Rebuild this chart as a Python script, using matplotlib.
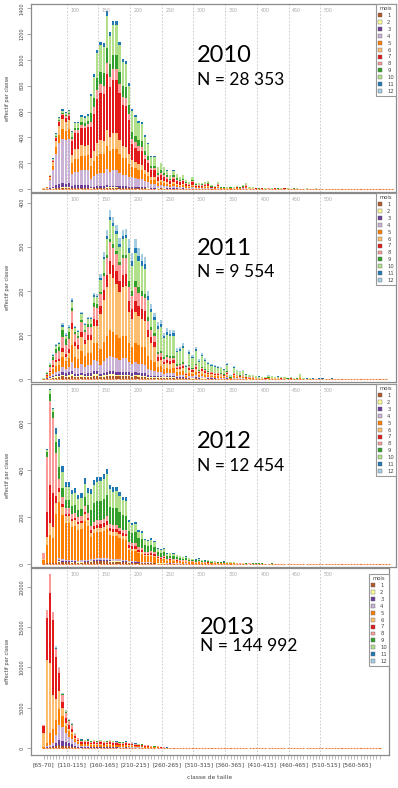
import numpy as np
import matplotlib
matplotlib.use("Agg")
import matplotlib.pyplot as plt
from matplotlib.patches import Patch

W, H = 398, 788

months = [str(m) for m in range(1, 13)]
month_colors = ["#B15928", "#FFFF99", "#6A3D9A", "#CAB2D6", "#FF7F00", "#FDBF6F",
                "#E31A1C", "#FB9A99", "#33A02C", "#B2DF8A", "#1F78B4", "#A6CEE3"]

first_size = 65
class_step = 5
shown_labels = ["[65-70]", "[110-115]", "[160-165]", "[210-215]", "[260-265]", "[310-315]",
                "[360-365]", "[410-415]", "[460-465]", "[510-515]", "[560-565]"]
guide_sizes = [100, 150, 200, 250, 300, 350, 400, 450, 500]

# ---- 2010 ----
totals_2010 = [5, 18, 108, 238, 431, 560, 620, 600, 615,
               449, 521, 521, 573, 565, 578,
               736, 891, 1077, 1141, 1128, 1375, 1219, 1304, 1304, 1141, 1005, 993, 819,
               620, 573, 530, 521, 418, 360, 256, 256,
               172, 204, 172, 147, 108, 147, 116, 95, 108, 70, 57, 95, 49, 44, 49, 57, 65,
               31, 23, 57, 18, 18, 13, 18, 13, 23, 18, 31, 44, 13, 13,
               8, 6, 10, 5, 7, 5, 8, 6, 4, 9, 5, 3, 6, 4, 3, 2, 4, 2, 3, 5, 2, 3, 2, 2,
               3, 1, 2, 1, 2, 1, 1, 2, 1, 1, 1, 0, 1, 0, 1, 0, 0, 1]
bands_2010 = [0, 9, 15, 28, 36]
shares_2010 = [[1, 1, 5, 56, 12, 12, 5, 2, 1.5, 2.5, 2, 0],
               [1, 0.5, 4.5, 20, 19, 14, 24, 4, 3.5, 7, 2.5, 0],
               [0.5, 0.5, 1, 9, 13, 9, 32, 6, 8.5, 18, 2.5, 0],
               [1, 0.5, 1.5, 12, 13, 8, 20, 7, 8, 26, 3, 0],
               [2, 0.5, 1.5, 10, 14, 8, 18, 8, 10, 25, 3, 0]]

# ---- 2011 ----
totals_2011 = [2, 17, 36, 57, 80, 85, 127, 104, 123,
               183, 121, 112, 153, 127, 142, 142, 195, 193,
               238, 289, 338, 383, 368, 349, 319, 338, 340, 317, 285, 317, 297, 284, 277,
               200, 170, 150, 130, 134, 105, 115, 111, 112, 70, 74, 81, 32,
               66, 55, 74, 45, 59, 48, 40, 35, 32, 30, 28, 24, 37, 9, 30, 21, 18, 21, 12, 10, 10,
               8, 7, 6, 5, 9, 8, 6, 7, 5, 6, 4, 5, 3, 4, 13, 3,
               2, 3, 2, 1, 2, 2, 1, 1, 2, 1, 1, 0, 1, 1, 0, 1]
bands_2011 = [0, 9, 18, 27, 36]
shares_2011 = [[5, 3, 5, 9, 17, 9, 7, 20, 12, 7, 3, 3],
               [4, 2, 4, 12, 20, 20, 8, 14, 4, 8, 2, 2],
               [2, 1, 2, 9, 15, 33, 8, 11, 2, 11, 2, 4],
               [2, 1, 2, 7, 14, 22, 8, 10, 4, 20, 4, 6],
               [3, 1, 2, 6, 10, 10, 6, 6, 4, 40, 5, 7]]

# ---- 2012 ----
totals_2012 = [45, 489, 745, 664, 579, 532, 418, 351, 351, 316, 322, 294, 301,
               365, 322, 318, 358, 370, 373, 384, 404, 337, 327, 330, 308, 287, 285,
               188, 176, 180, 145, 139, 105, 102, 109, 98, 67, 62, 67, 45, 48, 45, 38,
               35, 30, 33, 25, 22, 20, 24, 18, 15, 16, 12, 14, 10, 9, 11, 8, 7, 8, 6, 5,
               6, 4, 5, 4, 3, 4, 3, 2, 2, 3, 2, 1, 2, 1, 1, 2, 1, 0, 1, 1]
bands_2012 = [0, 1, 4, 5, 15, 27]
shares_2012 = [[0, 0, 0, 0, 40, 10, 0, 50, 0, 0, 0, 0],
               [0.5, 0, 0, 0, 16, 7, 22, 48, 4, 2, 0.5, 0],
               [1, 0, 0, 0, 36, 8, 5, 32, 8, 6, 4, 0],
               [2, 0.5, 1, 1.5, 45, 8, 3, 7, 10, 16, 6, 0],
               [3, 0.5, 1, 2, 30, 5, 4, 5, 22, 22, 5.5, 0],
               [3, 0.5, 1, 2, 25, 5, 6, 8, 25, 20, 4.5, 0]]

# ---- 2013 ----
totals_2013 = [2880, 17100, 21600, 16900, 12600, 10100, 6800, 4700, 3600, 3100, 1900, 1300,
               1100, 1050, 1100, 950, 1000, 950, 1000, 900, 950, 1000, 900, 850, 820, 800,
               850, 700, 720, 600, 500, 520, 400, 420, 300, 250, 280, 150, 120, 100, 90, 70,
               60, 50, 40, 30, 25, 20, 20, 15, 12, 10, 10, 8, 6, 5, 5, 4, 3, 3, 2]
bands_2013 = [0, 1, 2, 3, 4, 5, 6, 7, 12]
shares_2013 = [[0, 0, 0, 1, 3, 62, 31, 3, 0, 0, 0, 0],
               [0.5, 0, 0.5, 1, 2, 60, 30, 6, 0, 0, 0, 0],
               [0.5, 0, 0.5, 1, 7, 40, 40, 11, 0, 0, 0, 0],
               [1, 0, 1, 2, 10, 25, 55, 6, 0, 0, 0, 0],
               [2, 0, 3, 8, 15, 20, 42, 8, 0, 0, 1, 1],
               [4, 0, 6, 18, 20, 22, 22, 6, 0, 0, 1, 1],
               [5, 0, 8, 25, 20, 15, 12, 12, 1, 1, 0.5, 0.5],
               [7, 0, 10, 22, 20, 8, 12, 15, 2, 2, 1, 1],
               [8, 1, 3, 10, 25, 5, 20, 15, 4, 7, 1.5, 0.5]]

years = ["2010", "2011", "2012", "2013"]
n_labels = ["N = 28 353", "N = 9 554", "N = 12 454", "N = 144 992"]

# layout (pixels)
bar0_px, bar_dx_px = 43.5, 3.17
panels = [
    dict(top=4, bottom=192, right=396, zero=189.0, scale=0.1291, n=111,
         yticks=range(0, 1401, 200), ty=62, ny=85, tx=197, leg_dy=0),
    dict(top=193, bottom=382, right=396, zero=379.3, scale=0.442, n=109,
         yticks=range(0, 401, 100), ty=255, ny=277, tx=197, leg_dy=0),
    dict(top=384, bottom=567, right=396, zero=564.0, scale=0.2345, n=110,
         yticks=range(0, 601, 200), ty=448, ny=471, tx=197, leg_dy=0),
    dict(top=568, bottom=755, right=389, zero=748.3, scale=0.00808, n=107,
         yticks=range(0, 20001, 5000), ty=634, ny=651, tx=200, leg_dy=6),
]
data = [(totals_2010, bands_2010, shares_2010), (totals_2011, bands_2011, shares_2011),
        (totals_2012, bands_2012, shares_2012), (totals_2013, bands_2013, shares_2013)]


def stack_values(totals, band_starts, band_shares, n_class):
    tot = np.zeros(n_class)
    tot[:len(totals)] = totals[:n_class]
    idx = np.searchsorted(band_starts, np.arange(n_class), side="right") - 1
    sh = np.asarray(band_shares, dtype=float)[idx]
    sh = sh / sh.sum(axis=1, keepdims=True)
    return tot[:, None] * sh


fig = plt.figure(figsize=(W / 100, H / 100), dpi=100)
frame_col = "#8a8a8a"

for k, p in enumerate(panels):
    left = 31
    ax = fig.add_axes([left / W, 1 - p["bottom"] / H, (p["right"] - left) / W,
                       (p["bottom"] - p["top"]) / H])
    vals = stack_values(*data[k], p["n"])
    x = np.arange(p["n"])

    # zero-height outlines (the dotted baseline in the tail)
    ax.bar(x, np.zeros(p["n"]), width=0.65, color="none", edgecolor="#ee7a3a",
           linewidth=0.8, zorder=1)
    bottom = np.zeros(p["n"])
    for m in range(12):
        ax.bar(x, vals[:, m], width=0.7, bottom=bottom, color=month_colors[m],
               linewidth=0, zorder=2)
        bottom += vals[:, m]

    ax.set_xlim((left - bar0_px) / bar_dx_px, (p["right"] - bar0_px) / bar_dx_px)
    ax.set_ylim(-(p["bottom"] - p["zero"]) / p["scale"], (p["zero"] - p["top"]) / p["scale"])

    for L in guide_sizes:
        gx = (L - first_size) / class_step + 0.3
        ax.axvline(gx, color="#c4c4c4", lw=0.6, ls=(0, (2, 2)), zorder=0)
        ax.annotate(str(L), xy=(gx, 1), xycoords=("data", "axes fraction"),
                    xytext=(2.5, -5), textcoords="offset points", fontsize=3.4,
                    color="#a8a8a8", va="center", ha="left")

    for s in ax.spines.values():
        s.set_color(frame_col)
        s.set_linewidth(0.9)
    ax.set_yticks(list(p["yticks"]))
    ax.set_yticklabels([str(v) for v in p["yticks"]], rotation=90, va="center",
                       fontsize=3.5, color="#444444")
    ax.tick_params(axis="y", length=3, width=0.5, color=frame_col, pad=1.5)

    if k == 3:
        names = ["[%d-%d]" % (first_size + class_step * i, first_size + class_step * (i + 1))
                 for i in range(p["n"])]
        ax.set_xticks(x)
        ax.set_xticklabels([nm if nm in shown_labels else "" for nm in names],
                           fontsize=4.2, color="#444444")
        ax.tick_params(axis="x", length=3, width=0.4, color=frame_col, pad=2)
        ax.set_xlabel("classe de taille", fontsize=4.3, color="#444444", labelpad=6)
    else:
        ax.set_xticks([])

    ax.set_ylabel("effectif par classe", fontsize=3.7, color="#444444", labelpad=5)
    ax.yaxis.set_label_coords(-21 / (p["right"] - left), 0.5)

    handles = [Patch(facecolor=c, edgecolor="#666666", linewidth=0.3) for c in month_colors]
    leg = ax.legend(handles, months, title="mois", loc="upper right",
                    bbox_to_anchor=(1, 1 - p["leg_dy"] / (p["bottom"] - p["top"])),
                    borderaxespad=0, fontsize=3.8, title_fontsize=3.8,
                    handlelength=0.75, handleheight=0.75, handletextpad=0.9,
                    labelspacing=0.36, borderpad=0.4, fancybox=False,
                    framealpha=1, edgecolor="#999999")
    leg.get_frame().set_linewidth(0.8)
    for t in leg.get_texts():
        t.set_color("#444444")
    leg.get_title().set_color("#444444")

    fig.text(p["tx"] / W, 1 - p["ty"] / H, years[k], fontsize=17, family="Lato",
             va="baseline", ha="left")
    fig.text(p["tx"] / W, 1 - p["ny"] / H, n_labels[k], fontsize=12.5, family="Lato",
             va="baseline", ha="left")

fig.savefig("out.png", dpi=100)
